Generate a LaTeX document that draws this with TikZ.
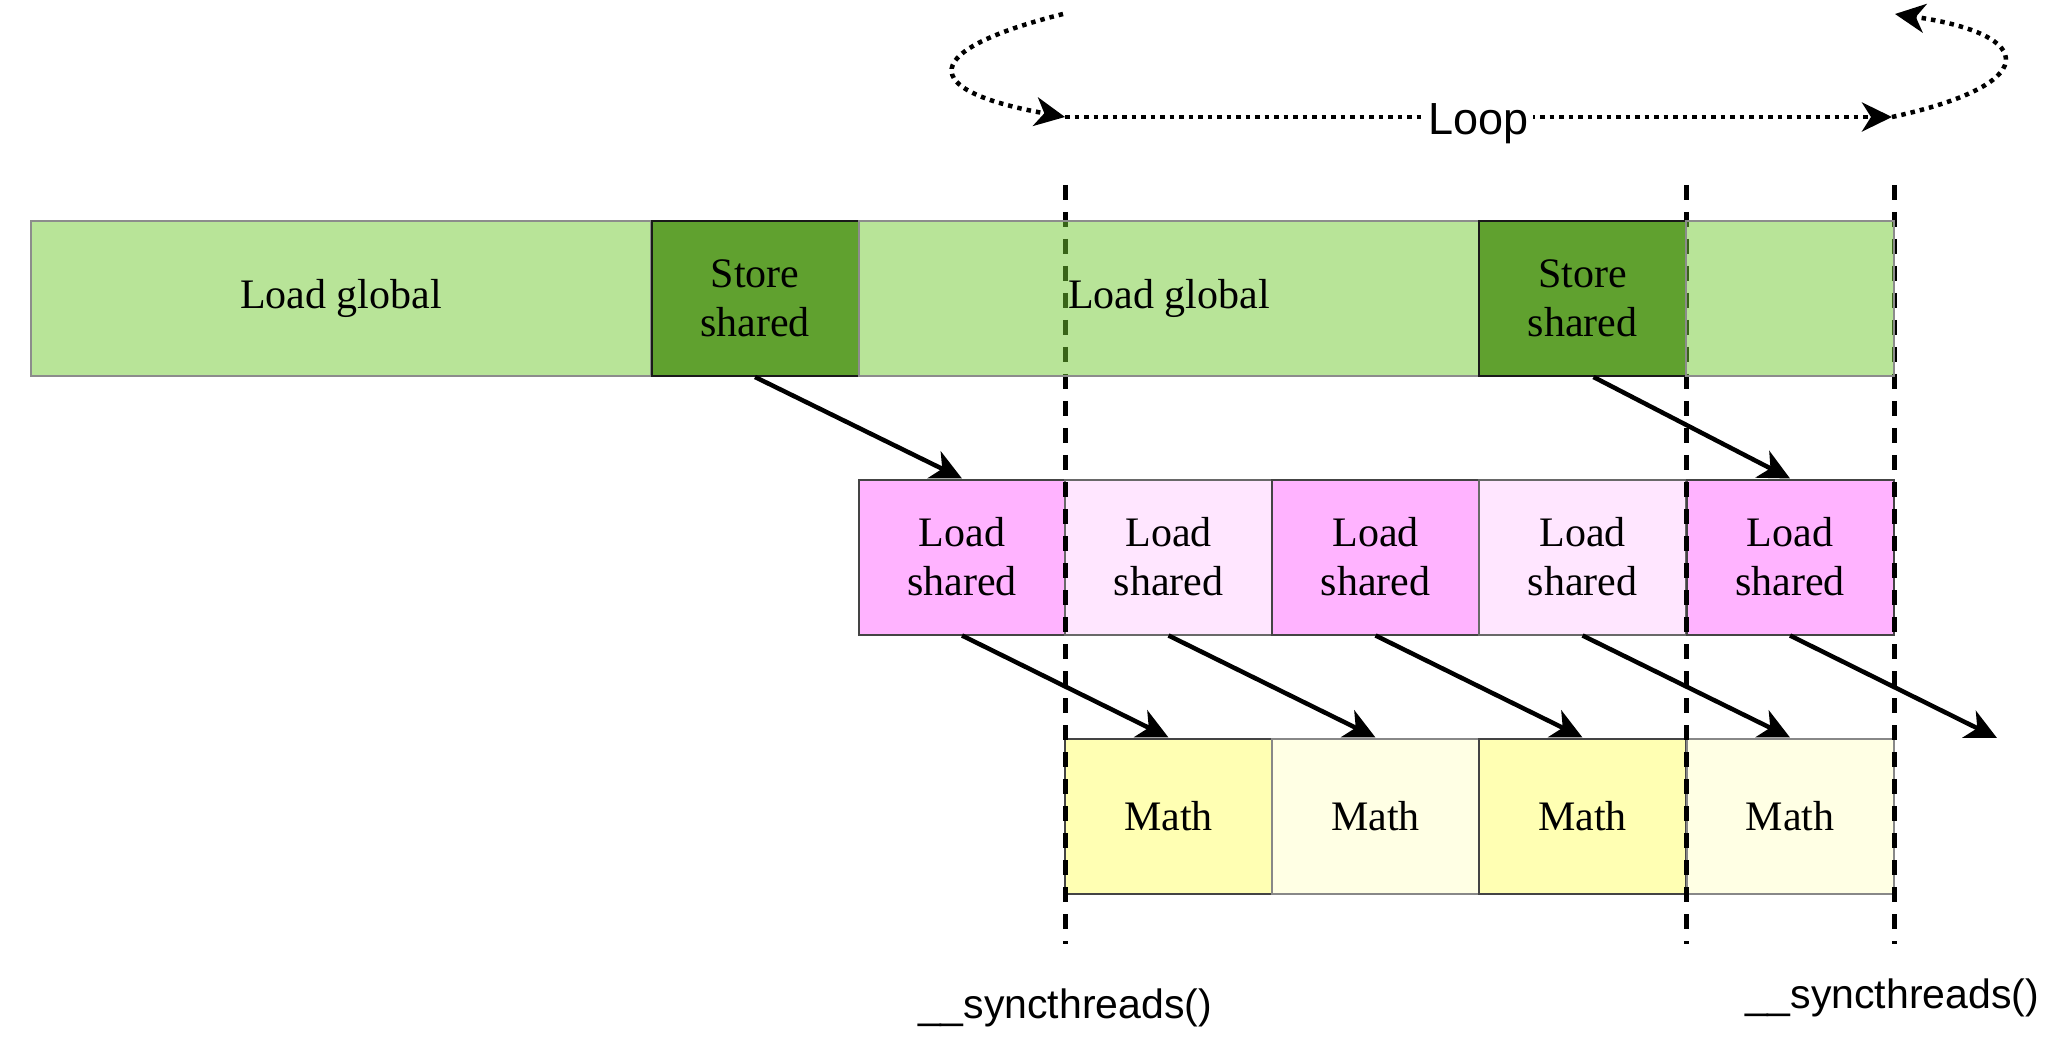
\documentclass[tikz,border=0pt]{standalone}
\usepackage{fontspec}
\setmainfont{Liberation Serif}
\newfontfamily\labelsans{Liberation Sans}
\usetikzlibrary{arrows.meta}

% fills and strokes
\definecolor{globalfill}{RGB}{113,201,49}   % used at 50% opacity
\definecolor{globaledge}{RGB}{140,140,140}
\definecolor{storefill}{RGB}{96,161,47}
\definecolor{storeedge}{RGB}{26,26,26}
\definecolor{shstrong}{RGB}{255,179,255}
\definecolor{shlight}{RGB}{255,230,255}
\definecolor{mathstrong}{RGB}{255,255,179}
\definecolor{mathlight}{RGB}{255,255,228}
\definecolor{edgedark}{RGB}{68,68,68}
\definecolor{edgelight}{RGB}{136,136,136}

\begin{document}
\begin{tikzpicture}[x=1pt,y=-1pt,
  box/.style={draw, line width=2pt, inner sep=0pt, minimum height=155pt,
    align=center, font=\fontsize{42}{49}\selectfont},
  globalbox/.style={box, draw=globaledge, fill=globalfill, fill opacity=0.5, text opacity=1},
  storebox/.style={box, draw=storeedge, fill=storefill, minimum width=207pt},
  shdark/.style={box, draw=edgedark, fill=shstrong, minimum width=207pt},
  shpale/.style={box, draw=edgedark!80, fill=shlight, minimum width=207pt},
  mathdark/.style={box, draw=edgedark, fill=mathstrong, minimum width=207pt},
  mathpale/.style={box, draw=edgelight, fill=mathlight, minimum width=207pt},
  syncline/.style={line width=5pt, dash pattern=on 15pt off 12pt},
  flow/.style={line width=4.5pt, -{Stealth[length=31pt,width=30pt,inset=9pt]}},
  loopline/.style={line width=4.5pt, dash pattern=on 4.5pt off 5pt,
    -{Stealth[length=30pt,width=29pt,inset=9pt]}},
  synclabel/.style={anchor=base, font=\labelsans\fontsize{41}{49}\selectfont},
]
\useasboundingbox (0,0) rectangle (2062,1040);

% shared-memory loads
\node[shdark] (lsh1) at (962,557)    {Load\\shared};
\node[shpale] (lsh2) at (1168.5,557) {Load\\shared};
\node[shdark] (lsh3) at (1375.5,557) {Load\\shared};
\node[shpale] (lsh4) at (1582.5,557) {Load\\shared};
\node[shdark] (lsh5) at (1790,557)   {Load\\shared};

% math steps
\node[mathdark] (m1) at (1168.5,816) {Math};
\node[mathpale] (m2) at (1375.5,816) {Math};
\node[mathdark] (m3) at (1582.5,816) {Math};
\node[mathpale] (m4) at (1790,816)   {Math};

% barrier lines
\coordinate (s1t) at (1065,185); \coordinate (s1b) at (1065,944);
\coordinate (s2t) at (1686,185); \coordinate (s2b) at (1686,944);
\coordinate (s3t) at (1894,185); \coordinate (s3b) at (1894,944);
\draw[syncline] (s1t) -- (s1b);
\draw[syncline] (s2t) -- (s2b);
\draw[syncline] (s3t) -- (s3b);

% global loads and shared stores
\node[globalbox, minimum width=620pt] (lg1) at (341,298.5) {Load global};
\node[storebox] (ss1) at (755,298.5) {Store\\shared};
\node[globalbox, minimum width=620pt] (lg2) at (1169,298.5) {Load global};
\node[storebox] (ss2) at (1582.5,298.5) {Store\\shared};
\node[globalbox, minimum width=208pt] (lg3) at (1790,298.5) {};

% data flow
\draw[flow] (ss1.south) -- (lsh1.north);
\draw[flow] ([xshift=11pt]ss2.south) -- (lsh5.north);
\draw[flow] (lsh1.south) -- (m1.north);
\draw[flow] (lsh2.south) -- (m2.north);
\draw[flow] (lsh3.south) -- (m3.north);
\draw[flow] (lsh4.south) -- (m4.north);
\coordinate (mnext) at (1997,738);
\draw[flow] (lsh5.south) -- (mnext);

% loop
\coordinate (loopLT) at (1063,14);
\coordinate (loopL) at (1065,117);
\coordinate (loopR) at (1892,117);
\coordinate (loopRT) at (1895,14);
\draw[loopline] (loopLT) .. controls (920,50) and (915,90) .. (loopL);
\draw[loopline] (loopL) -- node[fill=white, inner sep=4pt, anchor=base, yshift=-18pt,
  font=\labelsans\fontsize{45}{54}\selectfont] (looplabel) {Loop} (loopR);
\draw[loopline] (loopR) .. controls (2040,85) and (2040,35) .. (loopRT);

% barrier labels
\node[synclabel] (sync1) at (1065,1018) {\_\_syncthreads()};
\node[synclabel] (sync2) at (1892,1008) {\_\_syncthreads()};
\end{tikzpicture}
\end{document}
